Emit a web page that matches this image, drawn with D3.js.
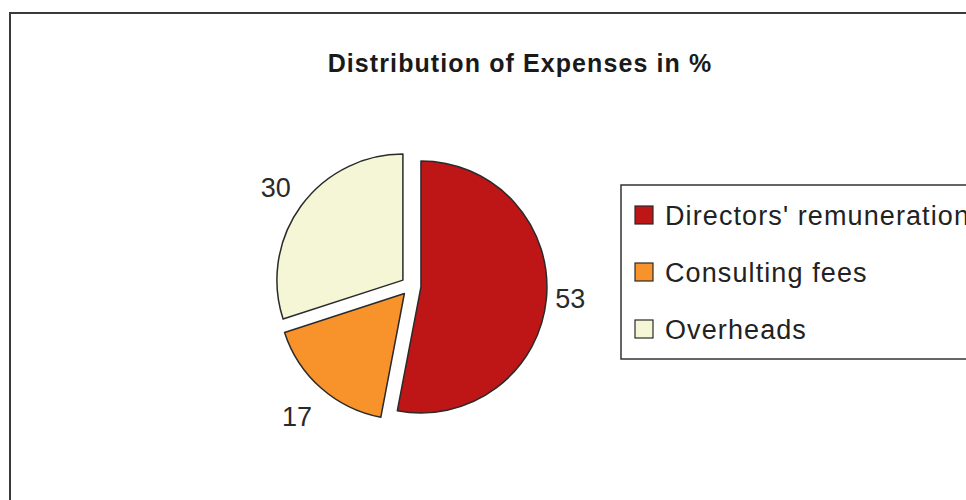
<!DOCTYPE html>
<html>
<head>
<meta charset="utf-8">
<script src="https://cdn.jsdelivr.net/npm/d3@7"></script>
<style>
    body { margin: 0; background: #fff; }
    svg { display: block; font-family: "Liberation Sans", Arial, sans-serif; }
</style>
</head>
<body>
<svg id="chart"></svg>
<script>
// Data
const categories = ['Directors\' remuneration', 'Consulting fees', 'Overheads']
const shares = [53, 17, 30]
const sliceColors = ['#be1516', '#f7932a', '#f5f6d5']
const chartTitle = 'Distribution of Expenses in %'

const fullWidth = 966
const fullHeight = 500
const center = { x: 411, y: 286 }
const radius = 126
const explode = 10

const svg = d3.select('#chart')
    .attr('width', fullWidth)
    .attr('height', fullHeight)

// outer frame (runs off the right / bottom edge like the source)
svg.append('rect')
    .attr('x', 10)
    .attr('y', 13)
    .attr('width', fullWidth + 20)
    .attr('height', fullHeight + 20)
    .attr('fill', '#fff')
    .attr('stroke', '#3a3a3a')
    .attr('stroke-width', 2)

svg.append('text')
    .attr('x', 520)
    .attr('y', 72)
    .attr('text-anchor', 'middle')
    .attr('font-weight', 'bold')
    .attr('font-size', 25)
    .attr('letter-spacing', 1.1)
    .attr('fill', '#1a1a1a')
    .text(chartTitle)

const pie = d3.pie().sort(null)
const arc = d3.arc().innerRadius(0).outerRadius(radius)
const arcs = pie(shares)

const colorScale = d3.scaleOrdinal().domain(categories).range(sliceColors)

const mainGroup = svg.append('g')
    .attr('transform', `translate(${center.x}, ${center.y})`)

const dirOf = d => {
    const a = (d.startAngle + d.endAngle) / 2
    return { x: Math.sin(a), y: -Math.cos(a) }
}

const slice = mainGroup.selectAll('.slice')
    .data(arcs)
    .enter()
    .append('g')
        .attr('class', 'slice')
        .attr('transform', d => {
            const v = dirOf(d)
            return `translate(${v.x * explode}, ${v.y * explode})`
        })

slice.append('path')
    .attr('d', arc)
    .attr('fill', (d, i) => colorScale(categories[i]))
    .attr('stroke', '#2a2a2a')
    .attr('stroke-width', 1.5)
    .attr('stroke-linejoin', 'round')

// value labels outside each slice
const labelGap = 9
slice.append('text')
    .attr('font-size', 27)
    .attr('fill', '#2a2a2a')
    .attr('x', d => dirOf(d).x * (radius + labelGap) + (dirOf(d).x < -0.2 ? -3 : 0))
    .attr('y', d => dirOf(d).y * (radius + labelGap))
    .attr('text-anchor', d => {
        const v = dirOf(d)
        return v.x > 0.2 ? 'start' : (v.x < -0.2 ? 'end' : 'middle')
    })
    .attr('dy', d => {
        const v = dirOf(d)
        return v.y > 0.3 ? '1.15em' : (v.y < -0.3 ? '-0.15em' : '0.3em')
    })
    .text(d => d.data)

// legend
const legend = svg.append('g')
    .attr('transform', 'translate(621, 185)')

legend.append('rect')
    .attr('x', 0)
    .attr('y', 0)
    .attr('width', 400)
    .attr('height', 174)
    .attr('fill', '#fff')
    .attr('stroke', '#333')
    .attr('stroke-width', 1.5)

const rowY = d3.scalePoint().domain(categories).range([30, 144])

const item = legend.selectAll('.item')
    .data(categories)
    .enter()
    .append('g')
        .attr('class', 'item')
        .attr('transform', d => `translate(14, ${rowY(d)})`)

item.append('rect')
    .attr('x', 0)
    .attr('y', -9)
    .attr('width', 18)
    .attr('height', 18)
    .attr('fill', d => colorScale(d))
    .attr('stroke', '#2a2a2a')
    .attr('stroke-width', 1.2)

item.append('text')
    .attr('x', 30)
    .attr('dy', '0.36em')
    .attr('font-size', 27)
    .attr('letter-spacing', 1.1)
    .attr('fill', '#222')
    .text(d => d)
</script>
</body>
</html>
